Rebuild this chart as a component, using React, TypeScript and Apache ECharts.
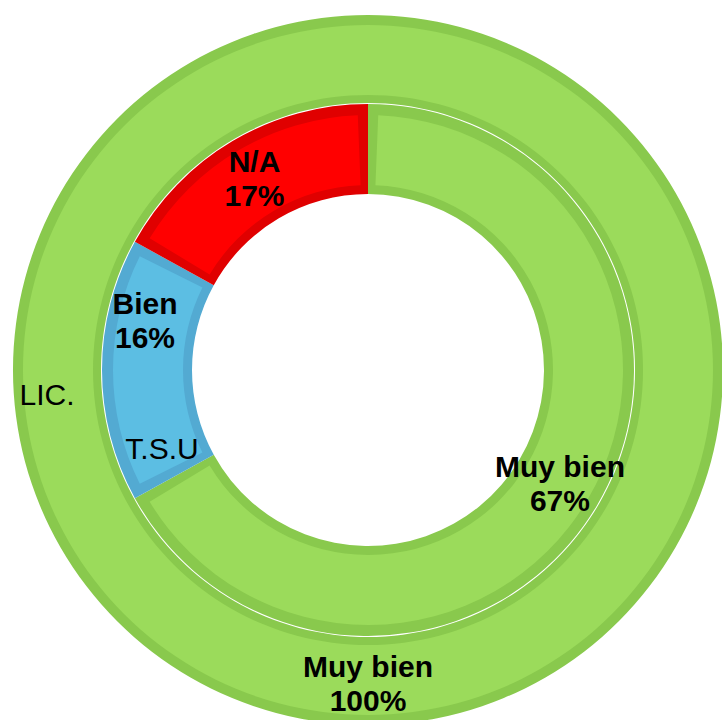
import React, { useEffect, useRef } from "react";
import * as echarts from "echarts";

// ---- data ----
const ringNames = ["T.S.U", "LIC."];
const innerCategories = ["Muy bien", "Bien", "N/A"];
const innerValues = [67, 16, 17];
const outerCategories = ["Muy bien"];
const outerValues = [100];

// ---- style ----
const innerFill = ["#9BDB5B", "#5CBEE3", "#FF0000"];
const innerBorder = ["#89C94D", "#53AAD2", "#E00000"];
const outerFill = ["#9BDB5B"];
const outerBorder = ["#89C94D"];
const FONT = "'Liberation Sans', Arial, Helvetica, sans-serif";
const CX = 368;
const CY = 370;

export default function App() {
  const ref = useRef<HTMLDivElement>(null);

  useEffect(() => {
    if (!ref.current) return;
    const chart = echarts.init(ref.current, undefined, { renderer: "svg" });

    const labelStyle = {
      show: true,
      position: "inside",
      formatter: "{b}\n{c}%",
      color: "#000",
      fontFamily: FONT,
      fontWeight: "bold",
      fontSize: 30,
      lineHeight: 34,
    };

    const option: any = {
      animation: false,
      backgroundColor: "#ffffff",
      series: [
        {
          type: "pie",
          name: ringNames[1] + " base",
          center: [CX, CY],
          radius: [267, 355],
          startAngle: 90,
          clockwise: true,
          silent: true,
          label: { show: false },
          labelLine: { show: false },
          emphasis: { disabled: true },
          data: outerValues.map((v, i) => ({
            name: outerCategories[i],
            value: v,
            itemStyle: { color: outerBorder[i] },
          })),
        },
        {
          type: "pie",
          name: ringNames[1],
          center: [CX, CY],
          radius: [275, 345],
          startAngle: 90,
          clockwise: true,
          silent: true,
          labelLine: { show: false },
          emphasis: { disabled: true },
          label: labelStyle,
          data: outerValues.map((v, i) => ({
            name: outerCategories[i],
            value: v,
            itemStyle: { color: outerFill[i] },
          })),
        },
        {
          type: "pie",
          name: ringNames[0] + " base",
          center: [CX, CY],
          radius: [176, 266],
          startAngle: 90,
          clockwise: true,
          silent: true,
          label: { show: false },
          labelLine: { show: false },
          emphasis: { disabled: true },
          data: innerValues.map((v, i) => ({
            name: innerCategories[i],
            value: v,
            itemStyle: { color: innerBorder[i] },
          })),
        },
        {
          type: "pie",
          name: ringNames[0],
          center: [CX, CY],
          radius: [185, 255],
          startAngle: 90,
          clockwise: true,
          padAngle: 4.6,
          silent: true,
          labelLine: { show: false },
          emphasis: { disabled: true },
          label: labelStyle,
          data: innerValues.map((v, i) => ({
            name: innerCategories[i],
            value: v,
            itemStyle: { color: innerFill[i] },
            label: i === 1 ? { offset: [0, -50] } : undefined,
          })),
        },
      ],
      graphic: [
        {
          type: "text",
          x: 162,
          y: 448,
          z: 100,
          zlevel: 0,
          silent: true,
          style: {
            text: ringNames[0],
            font: `30px ${FONT}`,
            fill: "#000",
            align: "center",
            verticalAlign: "middle",
            textAlign: "center",
            textVerticalAlign: "middle",
          },
        },
        {
          type: "text",
          x: 47,
          y: 394,
          z: 100,
          zlevel: 0,
          silent: true,
          style: {
            text: ringNames[1],
            font: `30px ${FONT}`,
            fill: "#000",
            align: "center",
            verticalAlign: "middle",
            textAlign: "center",
            textVerticalAlign: "middle",
          },
        },
      ],
    };

    chart.setOption(option);
    return () => chart.dispose();
  }, []);

  return (
    <div
      ref={ref}
      style={{ position: "absolute", left: 0, top: 0, width: 722, height: 720 }}
    />
  );
}
